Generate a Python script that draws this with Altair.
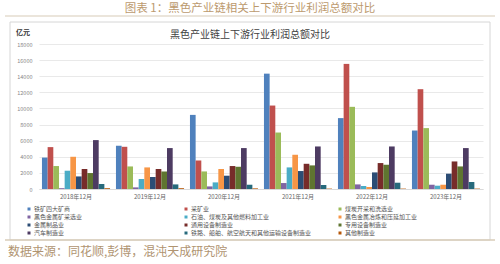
import altair as alt
import pandas as pd

FONT = "Noto Sans CJK SC"

categories = ["2018年12月", "2019年12月", "2020年12月", "2021年12月", "2022年12月", "2023年12月"]
series = [
    "铁矿四大矿商", "采矿业", "煤炭开采和洗选业",
    "黑色金属矿采选业", "石油、煤炭及其他燃料加工业", "黑色金属冶炼和压延加工业",
    "金属制品业", "通用设备制造业", "专用设备制造业",
    "汽车制造业", "铁路、船舶、航空航天和其他运输设备制造业", "其他制造业",
]
colors = ["#4F81BD", "#C0504D", "#9BBB59", "#8064A2", "#4BACC6", "#F79646",
          "#2C4D75", "#772C2A", "#5F7530", "#4D3B62", "#276A7C", "#B65708"]

v_iron4 = [3900, 5370, 9200, 14320, 8800, 7260]
v_mining = [5200, 5240, 3540, 10360, 15530, 12390]
v_coal = [2850, 2800, 2180, 7010, 10200, 7560]
v_ferrous_mine = [100, 200, 320, 740, 570, 530]
v_petro = [2270, 1240, 820, 2680, 370, 410]
v_steel = [4000, 2680, 2480, 4250, 250, 530]
v_metal_prod = [1560, 1490, 1650, 2230, 2060, 1900]
v_general_eq = [2480, 2480, 2850, 3130, 3220, 3420]
v_special_eq = [1980, 2180, 2760, 2930, 3010, 2800]
v_auto = [6070, 5080, 5080, 5280, 5280, 5080]
v_transport = [620, 570, 530, 500, 780, 870]
v_other = [100, 100, 80, 50, 50, 50]

all_values = [v_iron4, v_mining, v_coal, v_ferrous_mine, v_petro, v_steel,
              v_metal_prod, v_general_eq, v_special_eq, v_auto, v_transport, v_other]

y_ticks = list(range(0, 18001, 2000))

rows = []
for s, vals in zip(series, all_values):
    for c, v in zip(categories, vals):
        rows.append({"cat": c, "ser": s, "val": v})
df = pd.DataFrame(rows)

color_scale = alt.Scale(domain=series, range=colors)

bars = alt.Chart(df).mark_bar().encode(
    x=alt.X("cat:N", sort=categories,
            scale=alt.Scale(paddingInner=0.08, paddingOuter=0.04),
            axis=alt.Axis(title=None, labelAngle=0, ticks=False, domain=True,
                          domainColor="#d9d9d9", labelFontSize=6, labelColor="#666666",
                          labelFont=FONT, labelPadding=4)),
    xOffset=alt.XOffset("ser:N", sort=series,
                        scale=alt.Scale(paddingInner=0, paddingOuter=0)),
    y=alt.Y("val:Q", scale=alt.Scale(domain=[0, 18000], nice=False),
            axis=alt.Axis(title=None, values=y_ticks, format="d", ticks=False, domain=False,
                          grid=True, gridColor="#e3e3e3", gridWidth=0.8,
                          labelFontSize=5.5, labelColor="#888888", labelFont=FONT,
                          labelPadding=7)),
    color=alt.Color("ser:N", scale=color_scale, legend=None),
)

# legend layout (3 columns, row-major)
col_x = [-10, 147, 301]
row_y = [165, 173, 181, 189]
leg = pd.DataFrame({
    "ser": series,
    "lx": [col_x[i % 3] for i in range(len(series))],
    "ly": [row_y[i // 3] for i in range(len(series))],
})
leg["tx"] = leg["lx"] + 5

leg_sym = alt.Chart(leg).mark_square(size=9, opacity=1).encode(
    x=alt.X("lx:Q", scale=None, axis=None),
    y=alt.Y("ly:Q", scale=None, axis=None),
    color=alt.Color("ser:N", scale=color_scale, legend=None),
)
leg_txt = alt.Chart(leg).mark_text(align="left", baseline="middle", fontSize=6,
                                   font=FONT, color="#555555").encode(
    x=alt.X("tx:Q", scale=None, axis=None),
    y=alt.Y("ly:Q", scale=None, axis=None),
    text="ser:N",
)

one = pd.DataFrame({"a": [0]})

frame = alt.Chart(one).mark_rect(fill="transparent", stroke="#d6d6d6", strokeWidth=1).encode(
    x=alt.value(-29), x2=alt.value(451), y=alt.value(-22), y2=alt.value(196))

top_line = alt.Chart(one).mark_rule(color="#d8ccb8", strokeWidth=1.2).encode(
    x=alt.value(-34), x2=alt.value(456), y=alt.value(-28))
bottom_line = alt.Chart(one).mark_rule(color="#d8ccb8", strokeWidth=1.5).encode(
    x=alt.value(-34), x2=alt.value(456), y=alt.value(196))

outer_title = alt.Chart(pd.DataFrame({"t": ["图表 1：黑色产业链相关上下游行业利润总额对比"]})).mark_text(
    align="center", baseline="middle", fontSize=11.5, font=FONT, color="#BC9A6E").encode(
    x=alt.value(211), y=alt.value(-35), text="t:N")

inner_title = alt.Chart(pd.DataFrame({"t": ["黑色产业链上下游行业利润总额对比"]})).mark_text(
    align="center", baseline="middle", fontSize=10, font=FONT, color="#404040").encode(
    x=alt.value(211), y=alt.value(-9), text="t:N")

unit = alt.Chart(pd.DataFrame({"t": ["亿元"]})).mark_text(
    align="left", baseline="middle", fontSize=7, font=FONT, fontWeight="bold",
    color="#333333").encode(x=alt.value(-23), y=alt.value(-11), text="t:N")

source = alt.Chart(pd.DataFrame({"t": ["数据来源：同花顺,彭博，混沌天成研究院"]})).mark_text(
    align="left", baseline="middle", fontSize=12, font=FONT, color="#B09471").encode(
    x=alt.value(-31), y=alt.value(208), text="t:N")

chart = alt.layer(
    frame, top_line, bottom_line, bars, leg_sym, leg_txt,
    outer_title, inner_title, unit, source,
).resolve_scale(x="independent", y="independent").properties(
    width=444, height=145,
    padding={"left": 39, "top": 44, "right": 17, "bottom": 75},
    autosize=alt.AutoSizeParams(type="none"),
    background="white",
).configure_view(stroke=None)

chart.save("out.html", embed_options={"renderer": "svg", "actions": False})
